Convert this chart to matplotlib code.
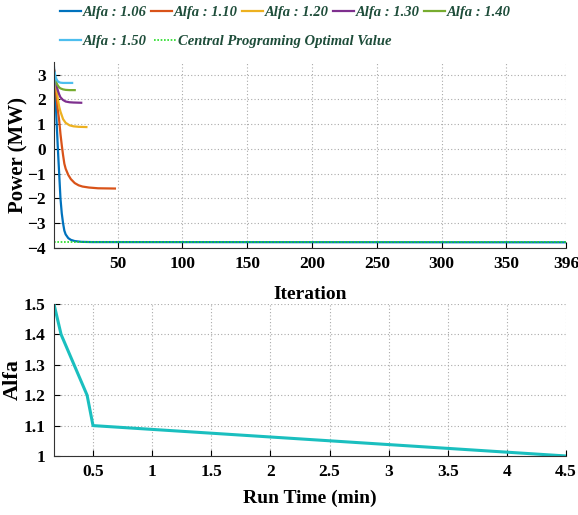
import matplotlib.pyplot as plt
import numpy as np

plt.rcParams['font.family'] = ['Liberation Serif', 'DejaVu Serif']
plt.rcParams['font.weight'] = 'bold'

# iteration curves for each alfa
it_106 = [1, 2, 3, 4, 5, 6, 7, 8, 9, 10, 12, 14, 17, 22, 30, 396]
p_106 = [3.3, 2.3, 1.1, 0.0, -1.0, -2.0, -2.6, -3.0, -3.3, -3.45, -3.6, -3.67, -3.72, -3.75, -3.76, -3.77]
it_110 = [1, 2, 3, 4, 5, 6, 7, 8, 9, 10, 12, 14, 17, 20, 23, 28, 35, 48]
p_110 = [3.2, 2.6, 2.05, 1.55, 1.15, 0.6, 0.15, -0.25, -0.6, -0.8, -1.05, -1.22, -1.38, -1.47, -1.52, -1.56, -1.59, -1.6]
it_120 = [1, 2, 3, 4, 5, 6, 8, 10, 13, 16, 20, 26]
p_120 = [3.2, 2.8, 2.4, 2.0, 1.7, 1.5, 1.2, 1.05, 0.95, 0.91, 0.89, 0.88]
it_130 = [1, 2, 3, 4, 5, 6, 8, 10, 13, 16, 22]
p_130 = [3.2, 2.85, 2.55, 2.35, 2.2, 2.08, 1.97, 1.91, 1.88, 1.87, 1.86]
it_140 = [1, 2, 3, 4, 5, 6, 8, 10, 13, 17]
p_140 = [3.1, 2.85, 2.65, 2.55, 2.48, 2.44, 2.4, 2.38, 2.37, 2.37]
it_150 = [1, 1.5, 2, 3, 4, 5, 6, 8, 10, 15]
p_150 = [2.3, 3.1, 2.95, 2.8, 2.72, 2.69, 2.67, 2.66, 2.66, 2.66]
optimal = -3.77
n_iter = 396

# alfa vs run time
run_time = [0.17, 0.23, 0.34, 0.45, 0.5, 4.5]
alfa = [1.5, 1.4, 1.3, 1.2, 1.1, 1.0]

fig = plt.figure(figsize=(5.78, 5.15), dpi=100)
ax1 = fig.add_axes([0.0934, 0.5184, 0.886, 0.361])
ax2 = fig.add_axes([0.0934, 0.1146, 0.886, 0.295])
ax2.patch.set_alpha(0)

lw = 1.6
h1, = ax1.plot(it_106, p_106, color='#0072BD', lw=lw, label='Alfa : 1.06')
h2, = ax1.plot(it_110, p_110, color='#D95319', lw=lw, label='Alfa : 1.10')
h3, = ax1.plot(it_120, p_120, color='#EDB120', lw=lw, label='Alfa : 1.20')
h4, = ax1.plot(it_130, p_130, color='#7E2F8E', lw=lw, label='Alfa : 1.30')
h5, = ax1.plot(it_140, p_140, color='#77AC30', lw=lw, label='Alfa : 1.40')
h6, = ax1.plot(it_150, p_150, color='#4DBEEE', lw=lw, label='Alfa : 1.50')
h7, = ax1.plot([1, n_iter], [optimal, optimal], color='#22DD22', lw=1.2,
               ls=(0, (1, 1)), label='Central Programing Optimal Value')

ax1.set_xlim(1, n_iter)
ax1.set_ylim(-4, 3.5)
ax1.set_xticks([50, 100, 150, 200, 250, 300, 350, 396])
ax1.set_yticks(np.arange(-4, 4, 1))
ax1.set_xlabel('Iteration', fontsize=14, fontweight='bold', labelpad=10)
ax1.set_ylabel('Power (MW)', fontsize=15, fontweight='bold')
ax1.yaxis.set_label_coords(-0.05, 0.5)

ax2.plot(run_time, alfa, color='#1ABFBF', lw=2.2)
ax2.set_xlim(0.17, 4.5)
ax2.set_ylim(1, 1.5)
ax2.set_xticks([0.5, 1, 1.5, 2, 2.5, 3, 3.5, 4, 4.5])
ax2.set_xticklabels(['0.5', '1', '1.5', '2', '2.5', '3', '3.5', '4', '4.5'])
ax2.set_yticks([1, 1.1, 1.2, 1.3, 1.4, 1.5])
ax2.set_yticklabels(['1', '1.1', '1.2', '1.3', '1.4', '1.5'])
ax2.set_xlabel('Run Time (min)', fontsize=14, fontweight='bold', labelpad=7)
ax2.set_ylabel('Alfa', fontsize=16, fontweight='bold')
ax2.yaxis.set_label_coords(-0.06, 0.5)

for ax in (ax1, ax2):
    ax.grid(True, ls=(0, (1, 2)), color='#aaaaaa', lw=0.8)
    ax.spines['top'].set_visible(False)
    ax.spines['right'].set_visible(False)
    ax.spines['left'].set_color('#333333')
    ax.spines['bottom'].set_color('#333333')
    ax.tick_params(direction='in', length=4, labelsize=12.5, pad=6)
    for lab in ax.get_xticklabels() + ax.get_yticklabels():
        lab.set_fontweight('bold')

leg_font = {'family': 'Liberation Serif', 'weight': 'bold', 'style': 'italic', 'size': 10.5}
leg1 = fig.legend(handles=[h1, h2, h3, h4, h5], loc='upper left', bbox_to_anchor=(0.088, 1.005),
                  ncol=5, frameon=False, prop=leg_font, handlelength=1.5, handletextpad=0.1,
                  columnspacing=0.25, borderaxespad=0.2)
leg2 = fig.legend(handles=[h6, h7], loc='upper left', bbox_to_anchor=(0.088, 0.95),
                  ncol=2, frameon=False, prop=leg_font, handlelength=1.5, handletextpad=0.1,
                  columnspacing=0.5, borderaxespad=0.2)
for leg in (leg1, leg2):
    for t in leg.get_texts():
        t.set_color('#1E4D3A')

fig.savefig('out.png', dpi=100)
